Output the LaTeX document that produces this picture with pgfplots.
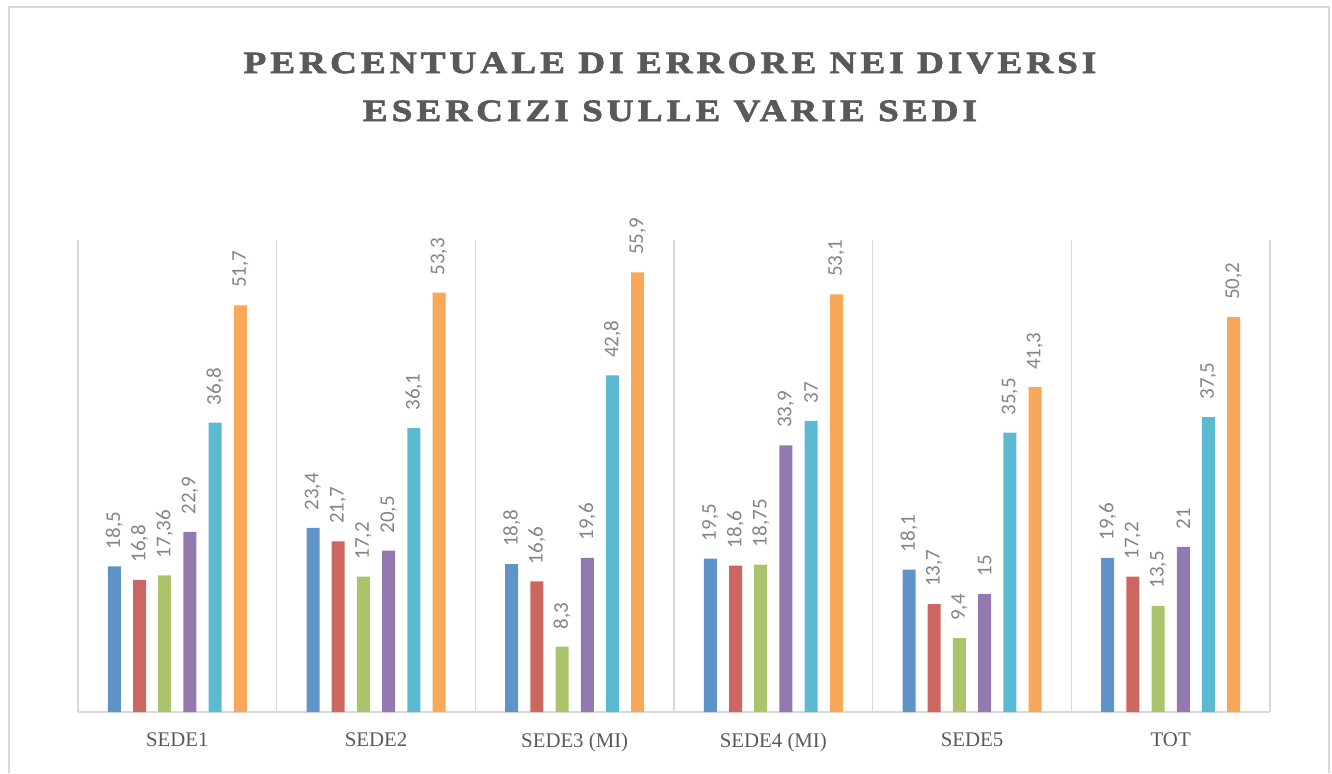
\documentclass[border=0pt]{standalone}
\usepackage{fontspec}
\setmainfont{Liberation Serif}
\newfontfamily\labfont{Carlito}
\newfontfamily\titlefont[LetterSpace=13, FakeStretch=1.2]{Liberation Serif}
\usepackage{pgfplots}
\pgfplotsset{compat=1.18}
\definecolor{sblue}{HTML}{6094C8}
\definecolor{sred}{HTML}{CC6660}
\definecolor{sgreen}{HTML}{ABC46C}
\definecolor{spurple}{HTML}{9479B0}
\definecolor{scyan}{HTML}{5BB9D2}
\definecolor{sorange}{HTML}{F9A759}
\definecolor{gridgray}{HTML}{D9D9D9}
\definecolor{txtgray}{HTML}{595959}
\definecolor{labgray}{HTML}{858585}
% heavier title: fill and stroke the glyphs
\newcommand{\heavy}[1]{\special{pdf:literal direct 2 Tr 0.35 w}#1\special{pdf:literal direct 0 Tr}}

\begin{document}
\begin{tikzpicture}
\useasboundingbox (0,0) rectangle (666pt,386.5pt);
% chart border (bottom edge is cut off in the reference)
\draw[gridgray, line width=1pt] (4.4pt,0) -- (4.4pt,383pt) -- (664.5pt,383pt) -- (664.5pt,0);

\node[font=\titlefont\bfseries\fontsize{15.5}{19}\selectfont, text=txtgray] at (335pt,355pt) {\heavy{PERCENTUALE DI ERRORE NEI DIVERSI}};
\node[font=\titlefont\bfseries\fontsize{15.5}{19}\selectfont, text=txtgray] at (335pt,331pt) {\heavy{ESERCIZI SULLE VARIE SEDI}};

\begin{axis}[
  at={(39pt,30.5pt)}, anchor=south west,
  scale only axis, width=596pt, height=236pt,
  xmin=-0.5, xmax=5.5, ymin=0, ymax=60,
  ybar=6.1pt, bar width=6.5pt,
  axis x line=bottom, axis y line=none,
  axis line style={draw=gridgray, line width=1pt, -},
  xtick={0,1,2,3,4,5},
  xticklabels={SEDE1,SEDE2,SEDE3 (MI),SEDE4 (MI),SEDE5,TOT},
  xticklabel style={font=\fontsize{10.4}{12}\selectfont, text=txtgray, yshift=-7pt},
  minor xtick={-0.5,0.5,1.5,2.5,3.5,4.5,5.5},
  xminorgrids, minor grid style={draw=gridgray, line width=0.6pt},
  major tick length=0pt, minor tick length=0pt,
  nodes near coords,
  /pgf/number format/.cd, use comma, precision=2, assume math mode=true,
  /pgfplots/.cd,
  every node near coord/.append style={rotate=90, anchor=west, inner xsep=8.5pt, inner ysep=0pt,
    font=\labfont\fontsize{10.5}{12}\selectfont, text=labgray},
  clip=false,
]
\addplot[fill=sblue, draw=none] coordinates {(0,18.5) (1,23.4) (2,18.8) (3,19.5) (4,18.1) (5,19.6)};
\addplot[fill=sred, draw=none] coordinates {(0,16.8) (1,21.7) (2,16.6) (3,18.6) (4,13.7) (5,17.2)};
\addplot[fill=sgreen, draw=none] coordinates {(0,17.36) (1,17.2) (2,8.3) (3,18.75) (4,9.4) (5,13.5)};
\addplot[fill=spurple, draw=none] coordinates {(0,22.9) (1,20.5) (2,19.6) (3,33.9) (4,15) (5,21)};
\addplot[fill=scyan, draw=none] coordinates {(0,36.8) (1,36.1) (2,42.8) (3,37) (4,35.5) (5,37.5)};
\addplot[fill=sorange, draw=none] coordinates {(0,51.7) (1,53.3) (2,55.9) (3,53.1) (4,41.3) (5,50.2)};
\end{axis}
\end{tikzpicture}
\end{document}
